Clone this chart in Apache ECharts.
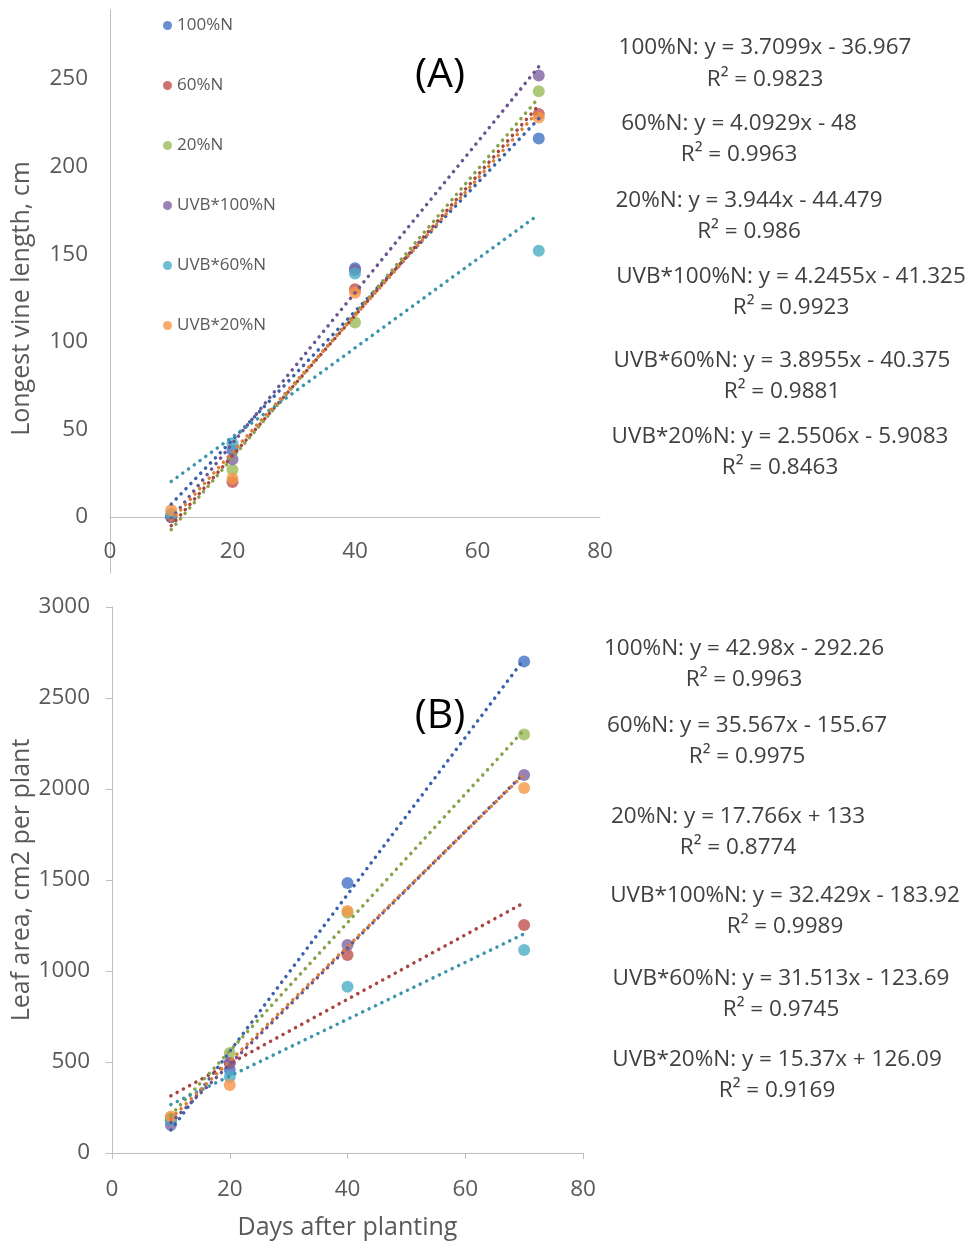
<!DOCTYPE html>
<html><head><meta charset="utf-8">
<script src="https://cdn.jsdelivr.net/npm/echarts@6/dist/echarts.min.js"></script>
<style>html,body{margin:0;padding:0;background:#fff}#c{width:970px;height:1242px}</style>
</head><body><div id="c"></div>
<script>
// ---------- DATA ----------
const days = [10, 20, 40, 70];
const seriesNames = ['100%N', '60%N', '20%N', 'UVB*100%N', 'UVB*60%N', 'UVB*20%N'];
// (A) Longest vine length, cm
const vineN100 = [0, 38, 142, 216];
const vineN60 = [0, 20, 130, 230];
const vineN20 = [1, 27, 111, 243];
const vineUVBN100 = [0, 33, 141, 252];
const vineUVBN60 = [2, 42, 139, 152];
const vineUVBN20 = [4, 22, 128, 228];
// (B) Leaf area, cm2 per plant
const leafN100 = [180, 456, 1483, 2700];
const leafN60 = [190, 494, 1088, 1253];
const leafN20 = [190, 549, 1320, 2300];
const leafUVBN100 = [154, 494, 1143, 2077];
const leafUVBN60 = [180, 418, 914, 1115];
const leafUVBN20 = [200, 374, 1330, 2005];
const xTicks = [0, 20, 40, 60, 80];
const vineTicks = [0, 50, 100, 150, 200, 250];
const leafTicks = [0, 500, 1000, 1500, 2000, 2500, 3000];
// Trendline equations shown beside each panel
const eqA = ['100%N: y = 3.7099x - 36.967', '60%N: y = 4.0929x - 48', '20%N: y = 3.944x - 44.479',
  'UVB*100%N: y = 4.2455x - 41.325', 'UVB*60%N: y = 3.8955x - 40.375', 'UVB*20%N: y = 2.5506x - 5.9083'];
const r2A = ['R² = 0.9823', 'R² = 0.9963', 'R² = 0.986', 'R² = 0.9923', 'R² = 0.9881', 'R² = 0.8463'];
const eqB = ['100%N: y = 42.98x - 292.26', '60%N: y = 35.567x - 155.67', '20%N: y = 17.766x + 133',
  'UVB*100%N: y = 32.429x - 183.92', 'UVB*60%N: y = 31.513x - 123.69', 'UVB*20%N: y = 15.37x + 126.09'];
const r2B = ['R² = 0.9963', 'R² = 0.9975', 'R² = 0.8774', 'R² = 0.9989', 'R² = 0.9745', 'R² = 0.9169'];

// ---------- STYLE / LAYOUT ----------
const colors = ['#4472C4', '#C0504D', '#9BBB59', '#8064A2', '#4BACC6', '#F79646'];
const trendColors = ['#3A62AC', '#A94442', '#86A34B', '#6C5590', '#3C95AD', '#DB8038'];
const FONT = 'Open Sans';
const vineSets = [vineN100, vineN60, vineN20, vineUVBN100, vineUVBN60, vineUVBN20];
const leafSets = [leafN100, leafN60, leafN20, leafUVBN100, leafUVBN60, leafUVBN20];
const eqPosA = [[765, 48, 80], [739, 124, 155], [749, 201, 232], [791, 277, 308], [782, 361, 392], [780, 437, 468]];
const eqPosB = [[744, 649, 680], [747, 726, 757], [738, 817, 848], [785, 896, 927], [781, 979, 1010], [777, 1060, 1091]];

function fit(xs, ys) {
  const n = xs.length;
  const mx = xs.reduce((a, b) => a + b, 0) / n, my = ys.reduce((a, b) => a + b, 0) / n;
  let sxy = 0, sxx = 0;
  for (let i = 0; i < n; i++) { sxy += (xs[i] - mx) * (ys[i] - my); sxx += (xs[i] - mx) ** 2; }
  const b = sxy / sxx; return [my - b * mx, b];
}

const series = [];
function addPanel(sets, idx) {
  sets.forEach((ys, i) => {
    series.push({
      name: seriesNames[i], type: 'scatter', xAxisIndex: idx, yAxisIndex: idx,
      symbolSize: 12, itemStyle: { color: colors[i] }, z: 3,
      data: days.map((d, k) => [d, ys[k]])
    });
  });
  sets.forEach((ys, i) => {
    const [a, b] = fit(days, ys);
    const x0 = days[0], x1 = days[days.length - 1];
    series.push({
      name: 'trend' + idx + '_' + i, type: 'line', xAxisIndex: idx, yAxisIndex: idx,
      symbol: 'none', silent: true, z: 4,
      lineStyle: { color: trendColors[i], width: 3.5, type: [0.1, 7], cap: 'round' },
      data: [[x0, a + b * x0], [x1, a + b * x1]]
    });
  });
}
addPanel(vineSets, 0);
addPanel(leafSets, 1);

const graphic = [];
const EQFONT = '22.5px "' + FONT + '"';
function addEq(eqs, r2s, pos) {
  eqs.forEach((t, i) => {
    graphic.push({ type: 'text', style: { text: t, x: pos[i][0], y: pos[i][1], align: 'center', verticalAlign: 'middle', font: EQFONT, fill: '#404040' } });
    graphic.push({ type: 'text', style: { text: r2s[i], x: pos[i][0], y: pos[i][2], align: 'center', verticalAlign: 'middle', font: EQFONT, fill: '#404040' } });
  });
}
addEq(eqA, r2A, eqPosA);
addEq(eqB, r2B, eqPosB);
graphic.push({ type: 'text', style: { text: '(A)', x: 440, y: 75, align: 'center', verticalAlign: 'middle', font: '41px "' + FONT + '"', fill: '#000' } });
graphic.push({ type: 'text', style: { text: '(B)', x: 440, y: 716, align: 'center', verticalAlign: 'middle', font: '41px "' + FONT + '"', fill: '#000' } });

const axisGray = '#BFBFBF';
const labelStyle = { color: '#595959', fontFamily: FONT, fontSize: 22.5 };
const option = {
  backgroundColor: '#fff',
  animation: false,
  textStyle: { fontFamily: FONT },
  grid: [
    { left: 110, right: 370, top: 10, bottom: 669 },
    { left: 112, right: 387, top: 607, bottom: 89 }
  ],
  legend: {
    data: seriesNames, orient: 'vertical', left: 158, top: 12,
    icon: 'circle', itemWidth: 9, itemHeight: 9, itemGap: 43,
    textStyle: { color: '#595959', fontFamily: FONT, fontSize: 17, lineHeight: 16 }
  },
  xAxis: [
    { gridIndex: 0, type: 'value', min: xTicks[0], max: xTicks[xTicks.length - 1], interval: xTicks[1] - xTicks[0],
      axisLine: { show: true, onZero: true, lineStyle: { color: axisGray } }, axisTick: { show: false },
      splitLine: { show: false }, axisLabel: Object.assign({ margin: -33 }, labelStyle) },
    { gridIndex: 1, type: 'value', min: xTicks[0], max: xTicks[xTicks.length - 1], interval: xTicks[1] - xTicks[0],
      axisLine: { show: true, lineStyle: { color: axisGray } }, axisTick: { show: true, length: 6, lineStyle: { color: axisGray } },
      splitLine: { show: false }, axisLabel: Object.assign({ margin: 25 }, labelStyle),
      name: 'Days after planting', nameLocation: 'middle', nameGap: 62,
      nameTextStyle: { color: '#595959', fontFamily: FONT, fontSize: 25 } }
  ],
  yAxis: [
    { gridIndex: 0, type: 'value', min: -32, max: 289.4, splitNumber: 6,
      axisLine: { show: true, lineStyle: { color: axisGray } }, axisTick: { show: false }, splitLine: { show: false },
      axisLabel: Object.assign({ margin: 22, formatter: v => vineTicks.indexOf(Math.round(v * 1000) / 1000) >= 0 ? String(v) : '' }, labelStyle),
      name: 'Longest vine length, cm', nameLocation: 'middle', nameGap: 76, nameRotate: 90,
      nameTextStyle: { color: '#595959', fontFamily: FONT, fontSize: 25, padding: [0, 14, 0, 0] } },
    { gridIndex: 1, type: 'value', min: leafTicks[0], max: leafTicks[leafTicks.length - 1], interval: leafTicks[1] - leafTicks[0],
      axisLine: { show: true, lineStyle: { color: axisGray } }, axisTick: { show: true, length: 6, lineStyle: { color: axisGray } },
      splitLine: { show: false }, axisLabel: Object.assign({ margin: 22, formatter: v => String(v) }, labelStyle),
      name: 'Leaf area, cm2 per plant', nameLocation: 'middle', nameGap: 76, nameRotate: 90,
      nameTextStyle: { color: '#595959', fontFamily: FONT, fontSize: 25 } }
  ],
  graphic: graphic,
  series: series
};
const chart = echarts.init(document.getElementById('c'), null, { renderer: 'canvas' });
chart.setOption(option);
</script>
</body></html>
